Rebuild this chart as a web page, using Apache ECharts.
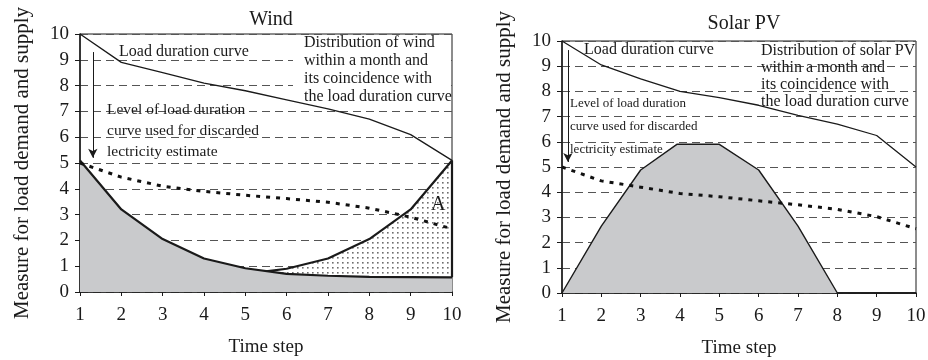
<!DOCTYPE html>
<html>
<head>
<meta charset="utf-8">
<script src="https://cdn.jsdelivr.net/npm/echarts@6/dist/echarts.min.js"></script>
<style>
  html, body { margin: 0; padding: 0; background: #fff; }
  #chart { width: 928px; height: 360px; }
</style>
</head>
<body>
<div id="chart"></div>
<script>
// Time steps shared by both panels
const timeSteps = [1, 2, 3, 4, 5, 6, 7, 8, 9, 10];

// Wind panel
const windLoad = [10, 8.9, 8.5, 8.1, 7.8, 7.45, 7.1, 6.7, 6.1, 5.1];
const windLevel = [5.0, 4.45, 4.1, 3.9, 3.75, 3.62, 3.48, 3.25, 2.9, 2.45];
const windSupply = [5.1, 3.2, 2.05, 1.3, 0.92, 0.7, 0.63, 0.59, 0.58, 0.57];
// Wind distribution mirrored against the load curve (region A)
const windMirrorTime = [5.5, 6, 7, 8, 9, 10, 10];
const windMirror = [0.8, 0.9, 1.3, 2.05, 3.2, 5.1, 0.57];

// Solar PV panel
const solarLoad = [10, 9.05, 8.5, 8.0, 7.75, 7.45, 7.05, 6.7, 6.25, 5.0];
const solarLevel = [5.0, 4.45, 4.2, 3.95, 3.82, 3.66, 3.5, 3.32, 3.03, 2.55];
const solarTime = [1, 2, 3, 3.92, 5, 6, 7, 8, 9, 10];
const solarSupply = [0, 2.65, 4.88, 5.9, 5.9, 4.88, 2.65, 0, 0, 0];

const yTicks = [0, 10, 1];
const xTicks = [1, 10, 1];

const pairs = (xs, ys) => xs.map((x, i) => [x, ys[i]]);

const SERIF = '"Liberation Serif", "DejaVu Serif", serif';
const INK = '#1a1a1a';
const GREY = '#c9cacc';

// Stippled fill used for region A
function stipple() {
  const c = document.createElement('canvas');
  c.width = 5; c.height = 5;
  const g = c.getContext('2d');
  g.fillStyle = '#fff';
  g.fillRect(0, 0, 5, 5);
  g.fillStyle = '#6e6e6e';
  g.fillRect(2, 2, 1.6, 1.6);
  return c;
}

function xAxisFor(gridIndex) {
  return {
    type: 'value', gridIndex,
    min: xTicks[0], max: xTicks[1], interval: xTicks[2],
    name: 'Time step', nameLocation: 'middle', nameGap: 46,
    nameTextStyle: { fontFamily: SERIF, fontSize: 19, color: INK },
    axisLine: { show: true, lineStyle: { color: INK, width: 1.5 } },
    axisTick: { show: true, length: 4, lineStyle: { color: INK } },
    axisLabel: { fontFamily: SERIF, fontSize: 19, color: INK, margin: 14 },
    splitLine: { show: false }
  };
}
function yAxisFor(gridIndex) {
  return {
    type: 'value', gridIndex,
    min: yTicks[0], max: yTicks[1], interval: yTicks[2],
    name: 'Measure for load demand and supply', nameLocation: 'middle', nameGap: 47,
    nameTextStyle: { fontFamily: SERIF, fontSize: 21, color: INK },
    axisLine: { show: true, lineStyle: { color: INK, width: 1.5 } },
    axisTick: { show: true, length: 5, lineStyle: { color: INK } },
    axisLabel: { fontFamily: SERIF, fontSize: 19, color: INK, margin: 11 },
    splitLine: { show: true, lineStyle: { color: '#555', width: 1, type: [8, 5] } }
  };
}

function txt(x, y, text, size, extra) {
  return Object.assign({
    type: 'text', x, y, z: 10,
    style: { text, fill: INK, font: size + 'px ' + SERIF, verticalAlign: 'middle' }
  }, extra || {});
}
function block(x, top, lines, size, lh) {
  return {
    type: 'text', x, y: top, z: 10,
    style: { text: lines.join('\n'), fill: INK, font: size + 'px ' + SERIF,
             lineHeight: lh, verticalAlign: 'top' }
  };
}

const chart = echarts.init(document.getElementById('chart'), null, { renderer: 'canvas' });

const option = {
  backgroundColor: '#fff',
  animation: false,
  title: [
    { text: 'Wind', left: 266, top: 5, textAlign: 'center',
      textStyle: { fontFamily: SERIF, fontSize: 20, fontWeight: 'normal', color: INK } },
    { text: 'Solar PV', left: 739, top: 9, textAlign: 'center',
      textStyle: { fontFamily: SERIF, fontSize: 20, fontWeight: 'normal', color: INK } }
  ],
  grid: [
    { left: 80, top: 34, width: 372, height: 258, outerBoundsMode: 'none',
      show: true, borderColor: INK, borderWidth: 1 },
    { left: 562, top: 41, width: 354, height: 252, outerBoundsMode: 'none',
      show: true, borderColor: INK, borderWidth: 1 }
  ],
  xAxis: [xAxisFor(0), xAxisFor(1)],
  yAxis: [yAxisFor(0), yAxisFor(1)],
  series: [
    // ---- Wind ----
    {
      type: 'line', xAxisIndex: 0, yAxisIndex: 0, z: 3, clip: false,
      data: pairs(windMirrorTime, windMirror), symbol: 'none',
      lineStyle: { color: INK, width: 2.2 },
      areaStyle: { color: { image: stipple(), repeat: 'repeat' }, opacity: 1 }
    },
    {
      type: 'line', xAxisIndex: 0, yAxisIndex: 0, z: 4, clip: false,
      data: pairs(timeSteps, windSupply), symbol: 'none',
      lineStyle: { color: INK, width: 2.2 },
      areaStyle: { color: GREY, opacity: 1 }
    },
    {
      type: 'line', xAxisIndex: 0, yAxisIndex: 0, z: 5,
      data: pairs(timeSteps, windLevel), symbol: 'none',
      lineStyle: { color: '#111', width: 3, type: [4, 6], cap: 'butt' }
    },
    {
      type: 'line', xAxisIndex: 0, yAxisIndex: 0, z: 5,
      data: pairs(timeSteps, windLoad), symbol: 'none',
      lineStyle: { color: INK, width: 1.3 },
      markLine: {
        silent: true, symbol: ['none', 'arrow'], symbolSize: [7, 9],
        lineStyle: { color: INK, width: 1, type: 'solid' }, label: { show: false },
        data: [[{ coord: [1.31, 9.3] }, { coord: [1.31, 5.2] }]]
      }
    },
    // ---- Solar PV ----
    {
      type: 'line', xAxisIndex: 1, yAxisIndex: 1, z: 4, clip: false,
      data: pairs(solarTime, solarSupply), symbol: 'none',
      lineStyle: { color: INK, width: 1.4 },
      areaStyle: { color: GREY, opacity: 1 }
    },
    {
      type: 'line', xAxisIndex: 1, yAxisIndex: 1, z: 5,
      data: pairs(timeSteps, solarLevel), symbol: 'none',
      lineStyle: { color: '#111', width: 3, type: [4, 6], cap: 'butt' }
    },
    {
      type: 'line', xAxisIndex: 1, yAxisIndex: 1, z: 5,
      data: pairs(timeSteps, solarLoad), symbol: 'none',
      lineStyle: { color: INK, width: 1.3 },
      markLine: {
        silent: true, symbol: ['none', 'arrow'], symbolSize: [7, 9],
        lineStyle: { color: INK, width: 1, type: 'solid' }, label: { show: false },
        data: [[{ coord: [1.15, 9.64] }, { coord: [1.15, 5.2] }]]
      }
    }
  ],
  graphic: [
    // white panel behind the wind distribution note
    { type: 'rect', z: 1, shape: { x: 293, y: 35, width: 158, height: 64 }, style: { fill: '#fff' } },
    txt(119, 52, 'Load duration curve', 16),
    block(304, 34, ['Distribution of wind', 'within a month and',
                    'its coincidence with', 'the load duration curve'], 16, 18),
    block(107, 99, ['Level of load duration', 'curve used for discarded',
                    'lectricity estimate'], 15.5, 21),
    txt(431, 205, 'A', 20),
    txt(584, 50, 'Load duration curve', 16),
    block(761, 42, ['Distribution of solar PV', 'within a month and',
                    'its coincidence with', 'the load duration curve'], 16, 17),
    block(570, 92, ['Level of load duration', 'curve used for discarded',
                    'lectricity estimate'], 13, 23)
  ]
};

chart.setOption(option);
</script>
</body>
</html>
